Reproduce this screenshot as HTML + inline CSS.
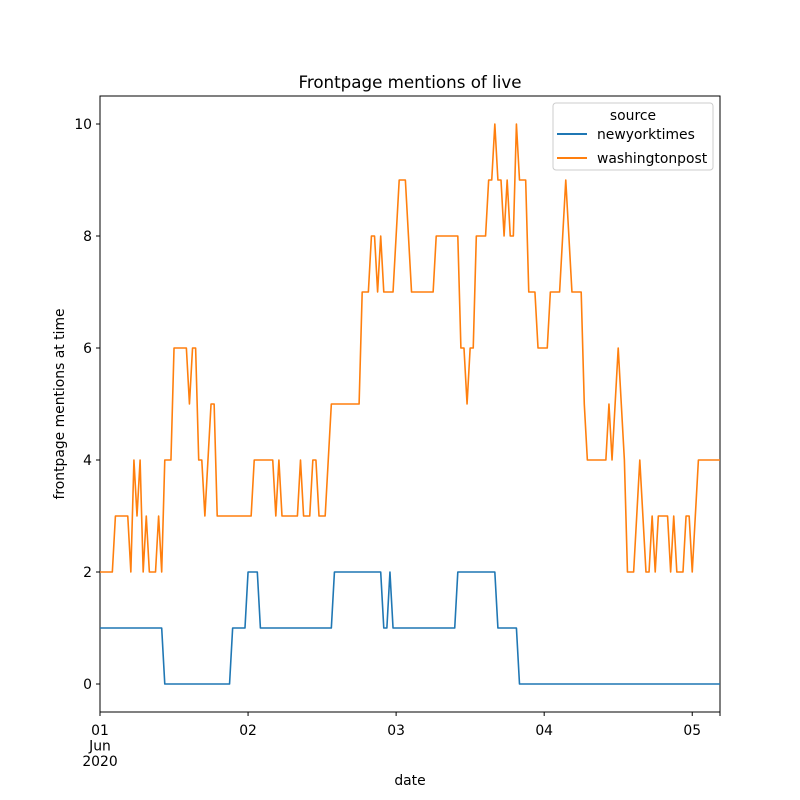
<!DOCTYPE html>
<html><head><meta charset="utf-8"><style>
body{margin:0;background:#fff}
svg{display:block;font-family:"DejaVu Sans","Liberation Sans",sans-serif}
</style></head><body>
<svg id="chart" width="800" height="800" viewBox="0 0 800 800">
<rect width="800" height="800" fill="#fff"/>
<text x="410" y="88" font-size="16.7" text-anchor="middle">Frontpage mentions of live</text>
<text x="410" y="785" font-size="13.9" text-anchor="middle">date</text>
<text transform="translate(64,404) rotate(-90)" font-size="13.9" text-anchor="middle">frontpage mentions at time</text>
<g id="axes"></g>
<g id="series"></g>
<g id="legend">
<rect x="553" y="103" width="160" height="67" rx="3" fill="#fff" fill-opacity="0.8" stroke="#ccc"/>
<text x="633" y="120" font-size="13.9" text-anchor="middle">source</text>
<line x1="557" y1="134" x2="587" y2="134" stroke="#1f77b4" stroke-width="2"/>
<text x="597" y="139" font-size="13.9">newyorktimes</text>
<line x1="557" y1="158" x2="587" y2="158" stroke="#ff7f0e" stroke-width="2"/>
<text x="597" y="163" font-size="13.9">washingtonpost</text>
</g>
</svg>
<script>
const stepDays = 1/48;
const yTicks = [0,2,4,6,8,10];
const xTickDays = [0,1,2,3,4];
const xTickLabels = [["01","Jun","2020"],["02"],["03"],["04"],["05"]];
const nytValues = [
1,1,1,1,1,1,1,1,1,1, 1,1,1,1,1,1,1,1,1,1,
1,0,0,0,0,0,0,0,0,0, 0,0,0,0,0,0,0,0,0,0,
0,0,0,1,1,1,1,1,2,2, 2,2,1,1,1,1,1,1,1,1,
1,1,1,1,1,1,1,1,1,1, 1,1,1,1,1,1,2,2,2,2,
2,2,2,2,2,2,2,2,2,2, 2,2,1,1,2,1,1,1,1,1,
1,1,1,1,1,1,1,1,1,1, 1,1,1,1,1,1,2,2,2,2,
2,2,2,2,2,2,2,2,2,1, 1,1,1,1,1,1,0,0,0,0,
0,0,0,0,0,0,0,0,0,0, 0,0,0,0,0,0,0,0,0,0,
0,0,0,0,0,0,0,0,0,0, 0,0,0,0,0,0,0,0,0,0,
0,0,0,0,0,0,0,0,0,0, 0,0,0,0,0,0,0,0,0,0,
0,0];
const wapoValues = [
2,2,2,2,2,3,3,3,3,3, 2,4,3,4,2,3,2,2,2,3,
2,4,4,4,6,6,6,6,6,5, 6,6,4,4,3,4,5,5,3,3,
3,3,3,3,3,3,3,3,3,3, 4,4,4,4,4,4,4,3,4,3,
3,3,3,3,3,4,3,3,3,4, 4,3,3,3,4,5,5,5,5,5,
5,5,5,5,5,7,7,7,8,8, 7,8,7,7,7,7,8,9,9,9,
8,7,7,7,7,7,7,7,7,8, 8,8,8,8,8,8,8,6,6,5,
6,6,8,8,8,8,9,9,10,9, 9,8,9,8,8,10,9,9,9,7,
7,7,6,6,6,6,7,7,7,7, 8,9,8,7,7,7,7,5,4,4,
4,4,4,4,4,5,4,5,6,5, 4,2,2,2,3,4,3,2,2,3,
2,3,3,3,3,2,3,2,2,2, 3,3,2,3,4,4,4,4,4,4,
4,4];

const L=100,R=720,T=96,B=712;
const xMax = (wapoValues.length-1)*stepDays;
const xS = d => L + d/xMax*(R-L);
const yS = v => B - (v+0.5)/11*(B-T);
const NS="http://www.w3.org/2000/svg";
function mk(tag, attrs, parent){const e=document.createElementNS(NS,tag);for(const k in attrs)e.setAttribute(k,attrs[k]);parent.appendChild(e);return e;}
const axes=document.getElementById('axes');
const spine=mk('path',{d:`M${L},${T}V${B}H${R}V${T}Z`,fill:'none',stroke:'#000','stroke-width':1},axes);


yTicks.forEach(v=>{
  const y=yS(v);
  const t=mk('line',{x1:L-4,x2:L,y1:y,y2:y,stroke:'#000'},axes);
  
  
  const lb=mk('text',{x:L-8,y:y+5,'font-size':13.9,'text-anchor':'end'},axes);
  lb.textContent=v;
  
  
});
xTickDays.forEach((d,i)=>{
  const x=xS(d);
  const t=mk('line',{x1:x,x2:x,y1:B,y2:B+4,stroke:'#000'},axes);
  
  
  xTickLabels[i].forEach((s,j)=>{
    const lb=mk('text',{x:x,y:B+23+j*15.5,'font-size':13.9,'text-anchor':'middle'},axes);
    lb.textContent=s;
    
    
  });
});
const mt=mk('line',{x1:R,x2:R,y1:B,y2:B+4,stroke:'#000'},axes);


const sg=document.getElementById('series');
[[nytValues,'#1f77b4','line-newyorktimes'],[wapoValues,'#ff7f0e','line-washingtonpost']].forEach(([vals,c,n])=>{
  const pts=vals.map((v,i)=>xS(i*stepDays).toFixed(2)+','+yS(v).toFixed(2)).join(' ');
  const p=mk('polyline',{points:pts,fill:'none',stroke:c,'stroke-width':1.6,'stroke-linejoin':'round'},sg);
  
  
});
document.getElementById('chart').appendChild(document.getElementById('legend'));
</script>
</body></html>
